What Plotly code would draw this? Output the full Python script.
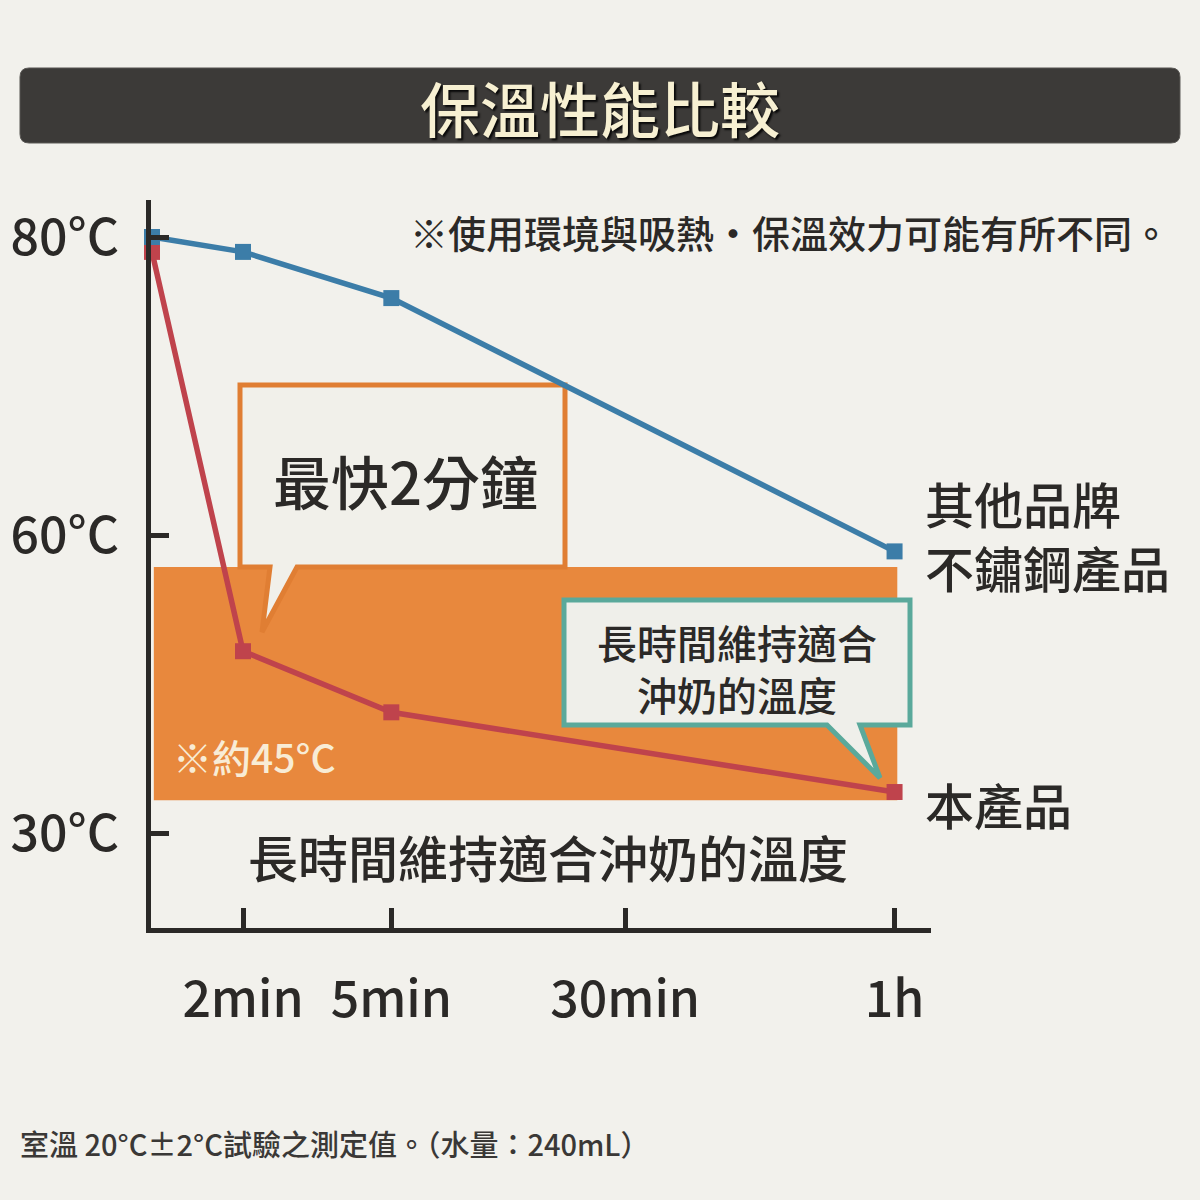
import plotly.graph_objects as go

# ---------------- data ----------------
time_labels = ["0", "2min", "5min", "30min", "1h"]
time_pos = [0.0, 1.0, 2.63, 5.2, 8.16]          # schematic (non-uniform) time axis
other_brand = [80.0, 79.0, 75.9, None, 58.9]      # 其他品牌 不鏽鋼產品
this_product = [79.0, 52.2, 48.1, None, 42.75]     # 本產品
y_tick_vals = [80, 60, 40]
y_tick_text = ["80°C", "60°C", "30°C"]
band_low, band_high = 42.2, 57.85                 # ※約45°C band

# ---------------- geometry helpers (decorations only) ----------------
L, R, T, B = 151, 269, 200, 272
W = H = 1200
PW, PH = W - L - R, H - T - B
X_RANGE = [(L - 152) / 91, (L + PW - 152) / 91]
Y_RANGE = [60 - (928 - 535) / 14.9, 80 + (237 - 200) / 14.9]


def px(x, y):
    """pixel -> paper"""
    return (x - L) / PW, (H - B - y) / PH


def pd(x, y):
    """pixel -> data (for decorations tied to the plot layer)"""
    a, b = px(x, y)
    return (X_RANGE[0] + a * (X_RANGE[1] - X_RANGE[0]),
            Y_RANGE[0] + b * (Y_RANGE[1] - Y_RANGE[0]))


def path(points, conv=pd):
    s = ""
    for i, (x, y) in enumerate(points):
        a, b = conv(x, y)
        s += ("M" if i == 0 else "L") + f"{a:.5f},{b:.5f} "
    return s + "Z"


def rounded_rect(x0, y0, x1, y1, r):
    def p(x, y):
        a, b = px(x, y)
        return f"{a:.5f},{b:.5f}"
    return (f"M{p(x0 + r, y0)} L{p(x1 - r, y0)} Q{p(x1, y0)} {p(x1, y0 + r)} "
            f"L{p(x1, y1 - r)} Q{p(x1, y1)} {p(x1 - r, y1)} L{p(x0 + r, y1)} "
            f"Q{p(x0, y1)} {p(x0, y1 - r)} L{p(x0, y0 + r)} Q{p(x0, y0)} {p(x0 + r, y0)} Z")


FONT = "Noto Sans CJK TC"
DARK = "#2b2927"
BG = "#f2f1ec"
BLUE = "#3c7da8"
RED = "#bf434c"

fig = go.Figure()

# red first so blue square sits on top at the start
fig.add_trace(go.Scatter(
    x=[t for t, v in zip(time_pos, this_product) if v is not None],
    y=[v for v in this_product if v is not None],
    mode="lines+markers", line=dict(color=RED, width=5.5),
    marker=dict(symbol="square", size=16, color=RED),
    cliponaxis=False, showlegend=False, hoverinfo="skip"))
fig.add_trace(go.Scatter(
    x=[t for t, v in zip(time_pos, other_brand) if v is not None],
    y=[v for v in other_brand if v is not None],
    mode="lines+markers", line=dict(color=BLUE, width=5.5),
    marker=dict(symbol="square", size=16, color=BLUE),
    cliponaxis=False, showlegend=False, hoverinfo="skip"))

shapes = []
# title bar
shapes.append(dict(type="path", xref="paper", yref="paper",
                   path=rounded_rect(20, 68, 1180, 143, 9),
                   fillcolor="#3c3a38", line=dict(color="#5a5855", width=1), layer="below"))
# orange band
shapes.append(dict(type="rect", xref="x", yref="y",
                   x0=time_pos[0] + 0.02, x1=time_pos[-1] + 0.03,
                   y0=band_low, y1=band_high,
                   fillcolor="#e8883d", line=dict(width=0), layer="below"))
# callout 1 (orange)
shapes.append(dict(type="path", xref="x", yref="y",
                   path=path([(240, 385), (565, 385), (565, 567), (297, 567),
                              (262, 632), (270, 567), (240, 567)]),
                   fillcolor="#f1f0ea", line=dict(color="#e07e33", width=5), layer="below"))
# callout 2 (teal)
shapes.append(dict(type="path", xref="x", yref="y",
                   path=path([(564, 600), (910, 600), (910, 725), (860, 725),
                              (880, 778), (827, 725), (564, 725)]),
                   fillcolor="#efefea", line=dict(color="#5aa99b", width=5), layer="below"))

ann = []


def text(x, y, s, size, color=DARK, xanchor="center", align="center", **kw):
    a, b = px(x, y)
    ann.append(dict(x=a, y=b, xref="paper", yref="paper", text=s, showarrow=False,
                    xanchor=xanchor, yanchor="middle", align=align,
                    font=dict(family=FONT, size=size, color=color, weight=500, **kw)))


text(600, 106, "保溫性能比較", 60, color="#f7f0d2", shadow="2px 2px 2px rgba(0,0,0,0.85)")
text(1172, 232, "※使用環境與吸熱・保溫效力可能有所不同。", 38, xanchor="right")
text(405, 480, "最快2分鐘", 58)
text(737, 668, "長時間維持適合<br>沖奶的溫度", 40)
text(171, 756, "※約45°C", 39, color="#f8ecd5", xanchor="left")
text(548, 856, "長時間維持適合沖奶的溫度", 50)
text(923, 534, "其他品牌<br>不鏽鋼產品", 49, xanchor="left", align="left")
text(923, 803, "本產品", 49, xanchor="left")
text(18, 1143, "室溫 20°C±2°C試驗之測定值。（水量：240mL）", 29, color="#3a3836", xanchor="left")

fig.update_layout(
    width=W, height=H,
    margin=dict(l=L, r=R, t=T, b=B, pad=0),
    paper_bgcolor=BG, plot_bgcolor=BG,
    shapes=shapes, annotations=ann,
    xaxis=dict(range=X_RANGE,
               tickvals=time_pos[1:], ticktext=time_labels[1:],
               ticks="inside", ticklen=20, tickwidth=5, tickcolor=DARK,
               showline=True, linewidth=5, linecolor=DARK, automargin=False,
               showgrid=False, zeroline=False, ticklabelstandoff=24,
               tickfont=dict(family=FONT, size=50, color=DARK, weight=500), fixedrange=True),
    yaxis=dict(range=Y_RANGE,
               tickvals=y_tick_vals, ticktext=y_tick_text,
               ticks="inside", ticklen=18, tickwidth=5, tickcolor=DARK,
               showline=True, linewidth=5, linecolor=DARK, automargin=False,
               showgrid=False, zeroline=False, ticklabelstandoff=17,
               tickfont=dict(family=FONT, size=50, color=DARK, weight=500), fixedrange=True),
)

fig.write_html("out.html", config={"displayModeBar": False},
               post_script="document.body.style.margin='0';document.body.style.background='%s';" % BG)
